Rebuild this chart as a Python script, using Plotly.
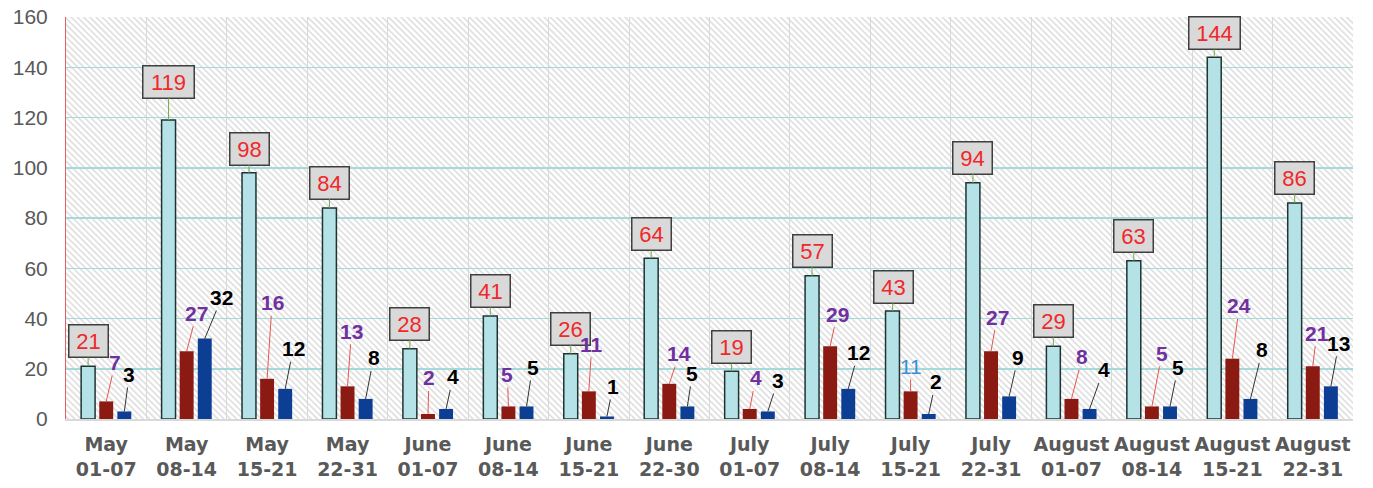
import base64
import plotly.graph_objects as go

# ---------------- data ----------------
months = ["May", "May", "May", "May", "June", "June", "June", "June",
          "July", "July", "July", "July", "August", "August", "August", "August"]
ranges = ["01-07", "08-14", "15-21", "22-31", "01-07", "08-14", "15-21", "22-30",
          "01-07", "08-14", "15-21", "22-31", "01-07", "08-14", "15-21", "22-31"]
categories = [f"{m}<br>{r}" for m, r in zip(months, ranges)]

series_total = [21, 119, 98, 84, 28, 41, 26, 64, 19, 57, 43, 94, 29, 63, 144, 86]
series_red = [7, 27, 16, 13, 2, 5, 11, 14, 4, 29, 11, 27, 8, 5, 24, 21]
series_blue = [3, 32, 12, 8, 4, 5, 1, 5, 3, 12, 2, 9, 4, 5, 8, 13]

y_ticks = [0, 20, 40, 60, 80, 100, 120, 140, 160]

# label placement offsets (pixels, relative to bar top)
total_lbl_dx = [0, 0, 0, 0, 0, 0, 0, 0, 0, 0, 1, 0, 0, 0, 0, 0]
total_lbl_dy = [-25, -38, -24, -25, -25, -25, -25, -24, -24, -25, -24, -25, -25, -25, -24, -25]
red_lbl_dx = [9, 10, 5, 4, 1, -1, 3, 10, 6, 7, 0, 6, 11, 10, 7, 4]
red_lbl_dy = [-39, -38, -76, -55, -36, -32, -47, -30, -31, -32, -25, -34, -42, -53, -53, -33]
blue_lbl_dx = [5, 17, 8, 8, 7, 6, 6, 5, 10, 10, 7, 9, 14, 8, 12, 8]
blue_lbl_dy = [-37, -41, -40, -41, -32, -39, -30, -33, -31, -36, -32, -39, -39, -39, -49, -43]

# ---------------- style ----------------
FONT = "Liberation Sans, Arial, sans-serif"
XFONT = "DejaVu Sans, Liberation Sans, sans-serif"
BARGAP = 0.325
SLOT = (1 - BARGAP) / 3
PLOT_W, PLOT_H = 1287, 402

# hatch background as an svg image
svg = f'''<svg xmlns="http://www.w3.org/2000/svg" width="{PLOT_W}" height="{PLOT_H}">
<defs><pattern id="h" patternUnits="userSpaceOnUse" width="8" height="4.4" patternTransform="rotate(45)">
<rect x="0" y="0" width="8" height="1.6" fill="#dedede"/></pattern></defs>
<rect width="100%" height="100%" fill="#ffffff"/>
<rect width="100%" height="100%" fill="url(#h)"/></svg>'''
svg_uri = "data:image/svg+xml;base64," + base64.b64encode(svg.encode()).decode()

fig = go.Figure()
fig.add_trace(go.Bar(x=categories, y=series_total, marker=dict(color="#b5e2e6",
                     line=dict(color="#1f3333", width=1.5)), name="total"))
fig.add_trace(go.Bar(x=categories, y=series_red, marker=dict(color="#8b1a12", line=dict(width=0)),
                     name="red"))
fig.add_trace(go.Bar(x=categories, y=series_blue, marker=dict(color="#0c3f94", line=dict(width=0)),
                     name="blue"))

annotations = []
for i in range(len(categories)):
    s = str(series_total[i])
    annotations.append(dict(
        x=i - SLOT, y=series_total[i], xref="x", yref="y", text=s,
        showarrow=True, arrowhead=0, arrowwidth=1, arrowcolor="#70ad47", standoff=0,
        ax=total_lbl_dx[i], ay=total_lbl_dy[i],
        font=dict(family=FONT, size=22, color="#f0282a"),
        bgcolor="#d9d9d9", bordercolor="#3f3f3f", borderwidth=1.5, borderpad=3,
        width=12 * len(s) + 8, align="center"))
    special = (i == 10)
    annotations.append(dict(
        x=i, y=series_red[i], xref="x", yref="y", text=str(series_red[i]),
        showarrow=True, arrowhead=0, arrowwidth=1, arrowcolor="#e8554e", standoff=0,
        ax=red_lbl_dx[i], ay=red_lbl_dy[i],
        font=dict(family=FONT, size=21, color="#3a8fd6" if special else "#7030a0",
                  weight="normal" if special else "bold")))
    annotations.append(dict(
        x=i + SLOT, y=series_blue[i], xref="x", yref="y", text=str(series_blue[i]),
        showarrow=True, arrowhead=0, arrowwidth=1, arrowcolor="#333333", standoff=0,
        ax=blue_lbl_dx[i], ay=blue_lbl_dy[i],
        font=dict(family=FONT, size=21, color="#000000", weight="bold")))

fig.update_layout(
    width=1373, height=488,
    margin=dict(l=66, r=20, t=17, b=69, autoexpand=False),
    paper_bgcolor="#ffffff", plot_bgcolor="rgba(0,0,0,0)",
    barmode="group", bargap=BARGAP, bargroupgap=0.23,
    showlegend=False, hovermode=False,
    font=dict(family=FONT),
    annotations=annotations,
    images=[dict(source=svg_uri, xref="paper", yref="paper", x=0, y=1, sizex=1, sizey=1,
                 xanchor="left", yanchor="top", sizing="stretch", layer="below")],
    xaxis=dict(type="category", range=[-0.5, 15.5], tickson="boundaries", automargin=False,
               tickangle=0, ticklabeloverflow="allow", ticklabelstandoff=7,
               showgrid=True, gridcolor="#d9d9d9", gridwidth=1,
               showline=True, linecolor="#d9d9d9", linewidth=2,
               ticks="", tickfont=dict(family=XFONT, size=19, color="#595959", weight="bold")),
    yaxis=dict(range=[0, 160], tickvals=y_ticks, showgrid=True, gridcolor="#a6dada", gridwidth=1.5,
               automargin=False, zeroline=False, showline=True, linecolor="#e06060", linewidth=1,
               ticks="", ticklabelstandoff=13, ticklabeloverflow="allow",
               tickfont=dict(family=FONT, size=21, color="#595959")),
)

fig.write_html("out.html", config={"displayModeBar": False, "staticPlot": True},
               post_script="document.body.style.margin='0px';")
